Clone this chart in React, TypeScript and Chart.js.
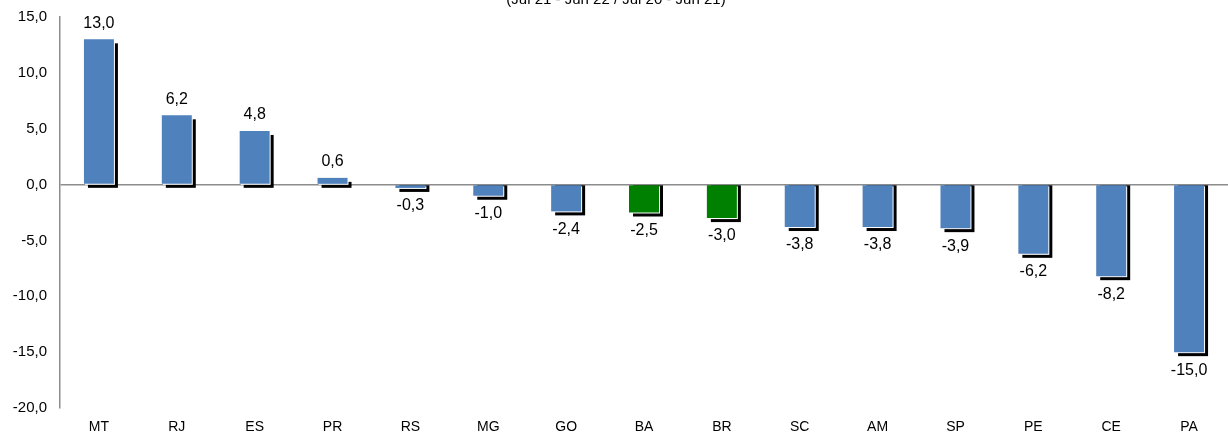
import React, { useEffect, useRef } from "react";
import { Chart, registerables } from "chart.js";

Chart.register(...registerables);

const categories = ["MT", "RJ", "ES", "PR", "RS", "MG", "GO", "BA", "BR", "SC", "AM", "SP", "PE", "CE", "PA"];
const values = [13.0, 6.2, 4.8, 0.6, -0.3, -1.0, -2.4, -2.5, -3.0, -3.8, -3.8, -3.9, -6.2, -8.2, -15.0];
const highlighted = ["BA", "BR"];
const yTicks = [15, 10, 5, 0, -5, -10, -15, -20];
const subtitle = "(Jul 21 - Jun 22 / Jul 20 - Jun 21)";

const BLUE = "#4F81BD";
const GREEN = "#008000";
const FONT = "Arial, 'Liberation Sans', sans-serif";

const fmt = (v: number) => v.toFixed(1).replace(".", ",");

const shadowPlugin = {
  id: "barShadow",
  beforeDatasetsDraw(chart: any) {
    const ctx = chart.ctx;
    const meta = chart.getDatasetMeta(0);
    ctx.save();
    meta.data.forEach((bar: any) => {
      const w = bar.width;
      const left = bar.x - w / 2;
      let top: number, bottom: number;
      if (bar.y <= bar.base) {
        top = bar.y + 4;
        bottom = bar.base + 4;
      } else {
        top = bar.base;
        bottom = bar.y + 4;
      }
      ctx.fillStyle = "#000";
      ctx.fillRect(left + 4, top, w, bottom - top);
      ctx.fillStyle = "#fff";
      const t2 = Math.min(bar.y, bar.base);
      const h2 = Math.abs(bar.base - bar.y);
      ctx.fillRect(left + 1, t2 + 1, w, h2);
    });
    ctx.restore();
  },
  afterDatasetsDraw(chart: any) {
    const ctx = chart.ctx;
    const meta = chart.getDatasetMeta(0);
    ctx.save();
    ctx.font = `16px ${FONT}`;
    ctx.fillStyle = "#000";
    ctx.textAlign = "center";
    ctx.textBaseline = "middle";
    meta.data.forEach((bar: any, i: number) => {
      const v = values[i];
      const y = v >= 0 ? bar.y - 16 : bar.y + 18;
      ctx.fillText(fmt(v), bar.x, y);
    });
    // cut-off subtitle at top
    ctx.font = `15px ${FONT}`;
    ctx.textBaseline = "alphabetic";
    ctx.fillText(subtitle, 616, 4);
    ctx.restore();
  },
};

export default function App() {
  const ref = useRef<HTMLCanvasElement | null>(null);
  useEffect(() => {
    if (!ref.current) return;
    const chart = new Chart(ref.current, {
      type: "bar",
      data: {
        labels: categories,
        datasets: [
          {
            data: values,
            backgroundColor: categories.map((c) => (highlighted.includes(c) ? GREEN : BLUE)),
            categoryPercentage: 1,
            barPercentage: 0.385,
          },
        ],
      },
      options: {
        animation: false,
        responsive: false,
        maintainAspectRatio: false,
        layout: { padding: { top: 17, bottom: 0, left: 0, right: 0 } },
        plugins: { legend: { display: false }, tooltip: { enabled: false }, title: { display: false } },
        scales: {
          x: {
            grid: { display: false, drawTicks: false },
            border: { display: false },
            ticks: { font: { size: 14, family: FONT }, color: "#000", padding: 11, maxRotation: 0 },
            afterFit: (s: any) => {
              s.height = 31;
              s.paddingLeft = 0;
              s.paddingRight = 0;
            },
          },
          y: {
            min: -20,
            max: 15,
            afterBuildTicks: (s: any) => {
              s.ticks = yTicks.map((v) => ({ value: v }));
            },
            grid: {
              drawTicks: false,
              color: (c: any) => (c.tick && c.tick.value === 0 ? "#8c8c8c" : "rgba(0,0,0,0)"),
              lineWidth: 1.5,
            },
            border: { display: true, color: "#8c8c8c", width: 1.5 },
            ticks: {
              font: { size: 15, family: FONT },
              color: "#000",
              padding: 13,
              callback: (v: any) => fmt(Number(v)),
            },
            afterFit: (s: any) => {
              s.width = 60;
              s.paddingTop = 0;
              s.paddingBottom = 0;
            },
          },
        },
      },
      plugins: [shadowPlugin],
    });
    return () => chart.destroy();
  }, []);
  return (
    <div style={{ position: "absolute", left: 0, top: 0, width: 1228, height: 439, background: "#fff" }}>
      <canvas ref={ref} width={1228} height={439} style={{ display: "block" }} />
    </div>
  );
}
